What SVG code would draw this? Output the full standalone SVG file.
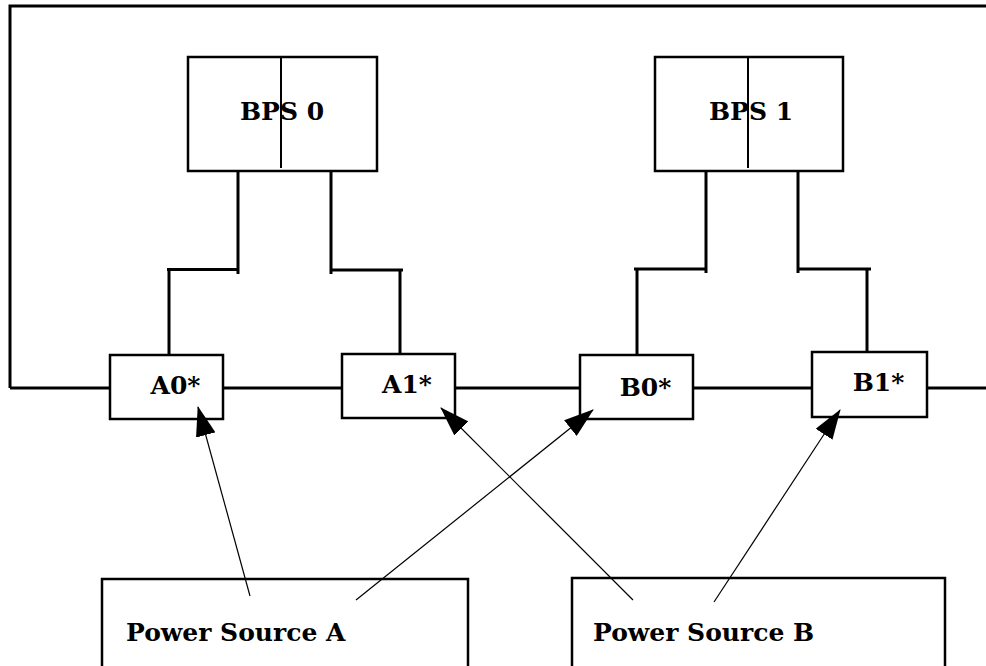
<svg xmlns="http://www.w3.org/2000/svg" width="986" height="666" viewBox="0 0 986 666">
<style>
.box{fill:#fff;stroke:#000;stroke-width:2.5}
.wire{fill:none;stroke:#000;stroke-width:3}
.thin{fill:none;stroke:#000;stroke-width:1.2;marker-end:url(#ah)}
.lbl{font-family:"DejaVu Serif","Liberation Serif",serif;font-weight:bold;font-size:25px;fill:#000}
</style>
<defs>
<marker id="ah" viewBox="0 0 30 20" refX="29" refY="10" markerWidth="30" markerHeight="20" markerUnits="userSpaceOnUse" orient="auto">
<path d="M0,0 L30,10 L0,20 z" fill="#000"/>
</marker>
</defs>
<rect width="986" height="666" fill="#fff"/>
<g id="bps0">
<rect class="box" x="188" y="57" width="189" height="114"/>
<line x1="281" y1="57" x2="281" y2="168" stroke="#000" stroke-width="2"/>
<text class="lbl" x="282" y="120" text-anchor="middle">BPS 0</text>
</g>
<g id="bps1">
<rect class="box" x="655" y="57" width="188" height="114"/>
<line x1="748" y1="57" x2="748" y2="168" stroke="#000" stroke-width="2"/>
<text class="lbl" x="751" y="120" text-anchor="middle">BPS 1</text>
</g>
<g id="a0">
<rect class="box" x="110" y="355" width="113" height="64"/>
<text class="lbl" x="175.5" y="394" text-anchor="middle">A0*</text>
</g>
<g id="a1">
<rect class="box" x="342" y="354" width="113" height="64"/>
<text class="lbl" x="407" y="393" text-anchor="middle">A1*</text>
</g>
<g id="b0">
<rect class="box" x="580" y="355" width="113" height="64"/>
<text class="lbl" x="645.5" y="396" text-anchor="middle">B0*</text>
</g>
<g id="b1">
<rect class="box" x="812" y="352" width="115" height="65"/>
<text class="lbl" x="878.5" y="391" text-anchor="middle">B1*</text>
</g>
<g id="psA">
<rect class="box" x="102" y="579" width="366" height="110"/>
<text class="lbl" x="126" y="641">Power Source A</text>
</g>
<g id="psB">
<rect class="box" x="572" y="578" width="373" height="110"/>
<text class="lbl" x="593" y="641">Power Source B</text>
</g>
<g id="connectors">
<path class="wire" d="M10,388 V6 H986"/>
<path class="wire" d="M10,388 H110 M223,388 H342 M455,388 H580 M693,388 H812 M927,388 H986"/>
<path class="wire" d="M238,170 V274 M167,269.5 H238 M169,269.5 V355"/>
<path class="wire" d="M331,170 V274 M331,270 H403 M400,270 V354"/>
<path class="wire" d="M706,170 V273 M634,269 H706 M637,269 V355"/>
<path class="wire" d="M798,170 V273 M798,269 H871 M867,269 V352"/>
<line class="thin" x1="250" y1="596" x2="198" y2="407"/>
<line class="thin" x1="356" y1="600" x2="593" y2="410"/>
<line class="thin" x1="633" y1="600" x2="441" y2="408"/>
<line class="thin" x1="714" y1="602" x2="840" y2="410"/>
</g>
</svg>
